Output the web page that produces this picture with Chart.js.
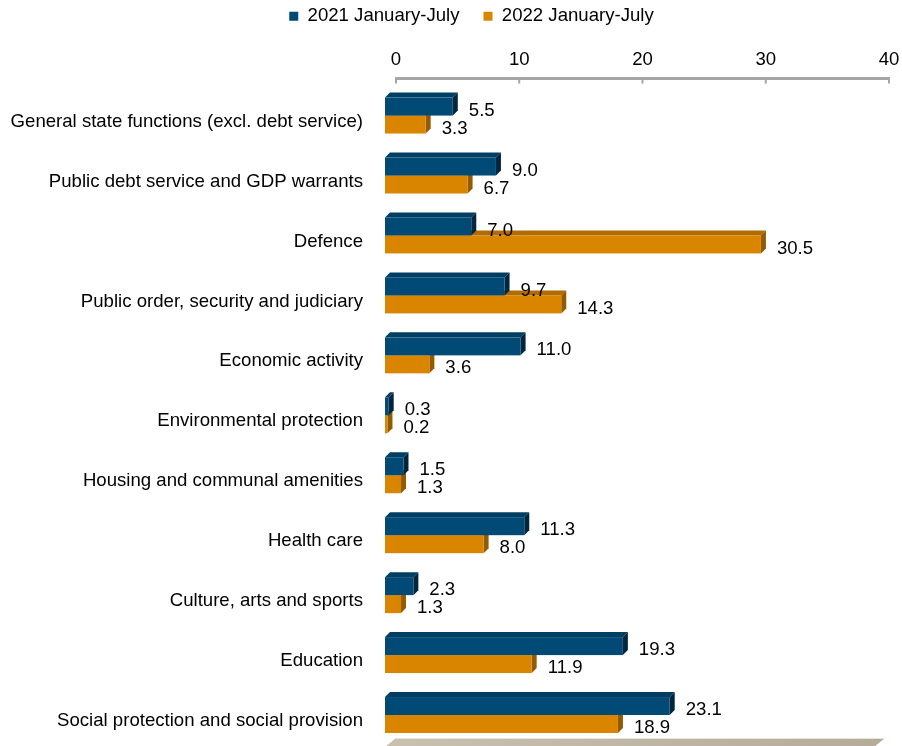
<!DOCTYPE html>
<html>
<head>
<meta charset="utf-8">
<script src="https://cdn.jsdelivr.net/npm/chart.js@4.4.0/dist/chart.umd.min.js"></script>
<style>
  html, body { margin: 0; padding: 0; background: #ffffff; }
  #wrap { width: 902px; height: 746px; }
</style>
</head>
<body>
<div id="wrap"><canvas id="chart" width="902" height="746"></canvas></div>
<script>
const categories = [
    'General state functions (excl. debt service)',
    'Public debt service and GDP warrants',
    'Defence',
    'Public order, security and judiciary',
    'Economic activity',
    'Environmental protection',
    'Housing and communal amenities',
    'Health care',
    'Culture, arts and sports',
    'Education',
    'Social protection and social provision'
];
const values2021 = [5.5, 9.0, 7.0, 9.7, 11.0, 0.3, 1.5, 11.3, 2.3, 19.3, 23.1];
const values2022 = [3.3, 6.7, 30.5, 14.3, 3.6, 0.2, 1.3, 8.0, 1.3, 11.9, 18.9];
const xTicks = [0, 10, 20, 30, 40];
const seriesNames = ['2021 January-July', '2022 January-July'];

// front / top / side shades for each series
const shades = [
    { front: '#004a75', top: '#003f63', side: '#00263f' },
    { front: '#d98500', top: '#b06c00', side: '#945a00' }
];

const FONT_SIZE = 18.6;
const DEPTH = 5;     // bar thickness in the perspective
const SHIFT_X = -11; // bars sit in front of the axis plane
const SHIFT_Y = 7;

function drawFloor(ctx, area) {
    const grad = ctx.createLinearGradient(area.left, 0, area.right, 0);
    grad.addColorStop(0, '#c9c1b0');
    grad.addColorStop(1, '#b4ab98');
    ctx.fillStyle = grad;
    ctx.beginPath();
    ctx.moveTo(area.left, area.bottom);
    ctx.lineTo(area.right - 4, area.bottom);
    ctx.lineTo(area.right - 4 + SHIFT_X, area.bottom + SHIFT_Y + 2);
    ctx.lineTo(area.left + SHIFT_X, area.bottom + SHIFT_Y + 2);
    ctx.closePath();
    ctx.fill();
    ctx.strokeStyle = '#e8e4dc';
    ctx.lineWidth = 1;
    ctx.beginPath();
    ctx.moveTo(area.left, area.bottom + 0.5);
    ctx.lineTo(area.right - 4, area.bottom + 0.5);
    ctx.stroke();
}

function draw3dBar(ctx, bar, c) {
    const p = bar.getProps(['x', 'y', 'base', 'height'], true);
    const left = Math.min(p.base, p.x);
    const right = Math.max(p.base, p.x);
    const top = p.y - p.height / 2;
    const bottom = p.y + p.height / 2;

    ctx.fillStyle = c.top;
    ctx.beginPath();
    ctx.moveTo(left, top);
    ctx.lineTo(left + DEPTH, top - DEPTH);
    ctx.lineTo(right + DEPTH, top - DEPTH);
    ctx.lineTo(right, top);
    ctx.closePath();
    ctx.fill();

    ctx.fillStyle = c.side;
    ctx.beginPath();
    ctx.moveTo(right, top);
    ctx.lineTo(right + DEPTH, top - DEPTH);
    ctx.lineTo(right + DEPTH, bottom - DEPTH);
    ctx.lineTo(right, bottom);
    ctx.closePath();
    ctx.fill();

    ctx.fillStyle = c.front;
    ctx.fillRect(left, top, right - left, bottom - top);
}

const bars3d = {
    id: 'bars3d',
    afterLayout(chart) {
        // legend is centred over the plot rather than the whole canvas
        chart.legend.left += 23;
        chart.legend.right += 23;
    },
    beforeDatasetsDraw(chart) {
        const ctx = chart.ctx;
        drawFloor(ctx, chart.chartArea);

        ctx.save();
        ctx.translate(SHIFT_X, SHIFT_Y);
        // lower series first so the upper bar covers its top face
        for (let d = chart.data.datasets.length - 1; d >= 0; d--) {
            chart.getDatasetMeta(d).data.forEach(bar => draw3dBar(ctx, bar, shades[d]));
        }

        // value labels
        ctx.font = FONT_SIZE + 'px "Liberation Sans", Arial, sans-serif';
        ctx.fillStyle = '#000000';
        ctx.textAlign = 'left';
        ctx.textBaseline = 'middle';
        chart.data.datasets.forEach((ds, d) => {
            chart.getDatasetMeta(d).data.forEach((bar, i) => {
                const p = bar.getProps(['x', 'y'], true);
                ctx.fillText(ds.data[i].toFixed(1), p.x + DEPTH + 11, p.y + 4);
            });
        });
        ctx.restore();
        return false;
    },
    afterDraw(chart) {
        // small tick marks under the value axis line
        const ctx = chart.ctx;
        const scale = chart.scales.x;
        const top = chart.chartArea.top;
        ctx.save();
        ctx.strokeStyle = '#a6a6a6';
        ctx.lineWidth = 2;
        xTicks.forEach(v => {
            const x = scale.getPixelForValue(v);
            ctx.beginPath();
            ctx.moveTo(x, top);
            ctx.lineTo(x, top + 5);
            ctx.stroke();
        });
        ctx.restore();
    }
};

Chart.defaults.font.family = '"Liberation Sans", Arial, sans-serif';
Chart.defaults.font.size = FONT_SIZE;
Chart.defaults.color = '#000000';

new Chart(document.getElementById('chart'), {
    type: 'bar',
    data: {
        labels: categories,
        datasets: [
            {
                label: seriesNames[0],
                data: values2021,
                backgroundColor: shades[0].front,
                categoryPercentage: 0.6,
                barPercentage: 1.0
            },
            {
                label: seriesNames[1],
                data: values2022,
                backgroundColor: shades[1].front,
                categoryPercentage: 0.6,
                barPercentage: 1.0
            }
        ]
    },
    options: {
        indexAxis: 'y',
        responsive: false,
        animation: false,
        layout: {
            padding: { top: -17, left: 8, right: 13, bottom: 8 }
        },
        plugins: {
            legend: {
                position: 'top',
                labels: {
                    boxWidth: 9,
                    boxHeight: 9,
                    padding: 24
                }
            },
            tooltip: { enabled: false }
        },
        scales: {
            x: {
                position: 'top',
                min: 0,
                max: 40,
                afterBuildTicks: scale => {
                    scale.ticks = xTicks.map(v => ({ value: v }));
                },
                afterFit: scale => { scale.height = 43; },
                grid: { display: false },
                border: { display: true, color: '#a6a6a6', width: 3 },
                ticks: { padding: 0 }
            },
            y: {
                afterFit: scale => {
                    scale.width = 388;
                    // let the category band run to the floor
                    scale.paddingTop = 0;
                    scale.paddingBottom = 0;
                },
                grid: { display: false },
                border: { display: false },
                ticks: { padding: 25, labelOffset: 13 }
            }
        }
    },
    plugins: [bars3d]
});
</script>
</body>
</html>
